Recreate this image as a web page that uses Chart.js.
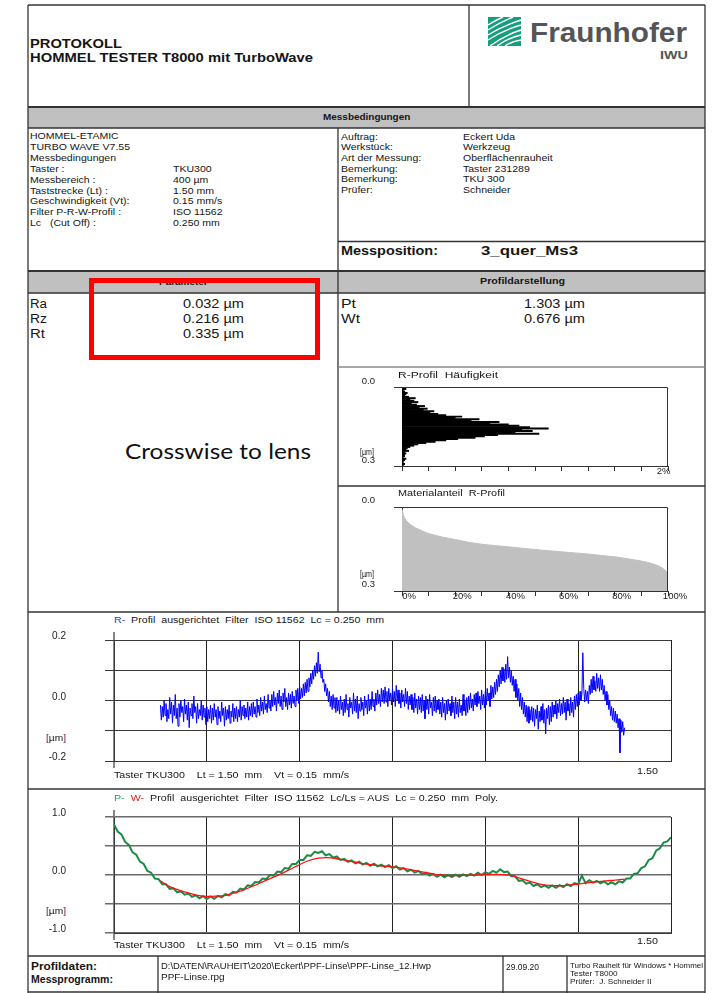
<!DOCTYPE html>
<html>
<head>
<meta charset="utf-8">
<script src="https://cdn.jsdelivr.net/npm/chart.js"></script>
<style>
html, body { margin: 0; padding: 0; background: #fff; }
#page { position: relative; width: 718px; height: 993px; overflow: hidden; font-family: "Liberation Sans", Arial, sans-serif; color: #151515; }
#frame { position: absolute; left: 0; top: 0; }
.t { position: absolute; white-space: nowrap; line-height: 1; transform-origin: 0 50%; }
canvas { position: absolute; }
#redBox { position: absolute; left: 89px; top: 278px; width: 221px; height: 72px; border: 5px solid #ff0000; }
</style>
</head>
<body>
<div id="page">
<svg id="frame" width="718" height="993">
  <rect x="28" y="107" width="677" height="21" fill="#c0c0c0"/>
  <rect x="28" y="271" width="677" height="22" fill="#c0c0c0"/>
  <g stroke="#333" stroke-width="1.3" fill="none">
    <line x1="28" y1="5" x2="705" y2="5"/>
    <line x1="28" y1="5" x2="28" y2="993"/>
    <line x1="705" y1="5" x2="705" y2="993"/>
    <line x1="469" y1="5" x2="469" y2="107"/>
    <line x1="28" y1="107" x2="705" y2="107" stroke-width="2"/>
    <line x1="28" y1="128" x2="705" y2="128"/>
    <line x1="338" y1="128" x2="338" y2="612"/>
    <line x1="338" y1="241.5" x2="705" y2="241.5" stroke-width="1.6"/>
    <line x1="28" y1="271" x2="705" y2="271" stroke-width="2"/>
    <line x1="28" y1="293" x2="705" y2="293"/>
    <line x1="338" y1="367" x2="705" y2="367" stroke="#8a8a8a"/>
    <line x1="338" y1="486" x2="705" y2="486" stroke-width="1.6"/>
    <line x1="28" y1="612" x2="705" y2="612" stroke-width="1.6"/>
    <line x1="28" y1="789" x2="705" y2="789" stroke-width="1.6"/>
    <line x1="28" y1="956" x2="705" y2="956" stroke-width="1.6"/>
    <line x1="158" y1="956" x2="158" y2="993"/>
    <line x1="503" y1="956" x2="503" y2="993"/>
    <line x1="567" y1="956" x2="567" y2="993"/>
    <line x1="28" y1="992" x2="705" y2="992"/>
    <line x1="114" y1="632" x2="114" y2="768" stroke="#444"/>
    <line x1="114" y1="810" x2="114" y2="940" stroke="#444"/>
  </g>
  <g transform="translate(488,17)">
    <rect width="33" height="29" fill="#179c7d"/>
    <g stroke="#fff" stroke-width="1.4" fill="none">
      <path d="M0,8 Q8,3 15,0"/>
      <path d="M0,13 Q11,6 25,0"/>
      <path d="M0,18 Q14,9 33,3"/>
      <path d="M0,23 Q15,13 33,8"/>
      <path d="M2,29 Q17,18 33,13"/>
      <path d="M9,29 Q20,21 33,18"/>
      <path d="M17,29 Q24,24 33,23"/>
    </g>
  </g>
</svg>
<canvas id="histChart" width="362" height="116" style="left:340px;top:370px"></canvas>
<canvas id="ratioChart" width="362" height="122" style="left:340px;top:490px"></canvas>
<canvas id="rChart" width="672" height="160" style="left:30px;top:626px"></canvas>
<canvas id="pwChart" width="672" height="150" style="left:30px;top:803px"></canvas>
<div id="redBox"></div>
</div>

<script>
// R-Profil, sampled every 0.0025 mm from 0.125 mm (µm)
const rStart = 0.125;
const rStep = 0.0025;
const rProfile = [
    -0.015, -0.065, -0.020, -0.055, 0.000, -0.050, -0.010, -0.070, -0.030, -0.060,
    0.010, -0.045, -0.005, -0.075, -0.015, -0.050, 0.020, -0.060, -0.025, -0.085,
    -0.010, -0.055, 0.000, -0.040, -0.020, -0.070, 0.005, -0.045, -0.015, -0.065,
    -0.005, -0.090, -0.025, -0.050, -0.010, -0.060, 0.015, -0.040, -0.020, -0.075,
    -0.010, -0.060, -0.030, -0.050, 0.000, -0.065, -0.015, -0.055, -0.025, -0.080,
    -0.020, -0.070, -0.030, -0.060, -0.015, -0.075, -0.025, -0.065, -0.010, -0.055,
    -0.030, -0.080, -0.020, -0.060, -0.035, -0.070, -0.005, -0.050, -0.025, -0.085,
    -0.020, -0.065, -0.030, -0.060, -0.015, -0.075, -0.035, -0.055, -0.010, -0.070,
    -0.025, -0.060, -0.020, -0.070, -0.030, -0.055, 0.000, -0.065, -0.020, -0.050,
    -0.015, -0.060, -0.025, -0.055, -0.005, -0.065, -0.020, -0.050, -0.010, -0.055,
    -0.005, -0.045, -0.020, -0.055, 0.005, -0.040, -0.015, -0.050, 0.010, -0.035,
    -0.005, -0.045, 0.015, -0.030, -0.010, -0.040, 0.020, -0.025, 0.000, -0.035,
    0.020, -0.020, 0.030, -0.015, 0.010, -0.035, 0.025, -0.010, 0.035, -0.020,
    0.015, -0.030, 0.025, -0.005, 0.040, -0.020, 0.010, -0.030, 0.025, -0.015,
    0.020, -0.025, 0.030, -0.010, 0.015, -0.020, 0.035, 0.000, 0.040, -0.010,
    0.045, 0.005, 0.040, 0.010, 0.055, 0.015, 0.060, 0.025, 0.070, 0.030,
    0.075, 0.045, 0.090, 0.055, 0.100, 0.070, 0.115, 0.080, 0.125, 0.090,
    0.160, 0.095, 0.120, 0.075, 0.100, 0.060, 0.070, 0.030, 0.055, 0.015,
    0.040, -0.005, 0.030, -0.020, 0.015, -0.030, 0.020, -0.025, 0.010, -0.040,
    0.010, -0.035, 0.000, -0.045, 0.015, -0.030, -0.005, -0.050, 0.005, -0.040,
    0.020, -0.030, -0.010, -0.055, 0.010, -0.025, -0.005, -0.045, 0.025, -0.035,
    0.005, -0.040, 0.015, -0.060, -0.010, -0.035, 0.010, -0.030, -0.005, -0.050,
    0.015, -0.025, 0.000, -0.045, 0.020, -0.035, 0.005, -0.030, 0.030, -0.020,
    0.005, -0.035, 0.025, -0.015, 0.035, -0.010, 0.020, -0.020, 0.040, -0.005,
    0.035, -0.010, 0.045, -0.005, 0.030, -0.020, 0.040, 0.000, 0.025, -0.015,
    0.040, -0.005, 0.030, -0.020, 0.050, 0.000, 0.035, -0.010, 0.025, -0.025,
    0.035, -0.005, 0.020, -0.020, 0.040, -0.010, 0.030, -0.030, 0.015, -0.015,
    0.020, -0.030, 0.010, -0.040, 0.025, -0.025, 0.005, -0.045, 0.015, -0.030,
    0.010, -0.040, 0.020, -0.035, 0.000, -0.060, 0.015, -0.030, 0.005, -0.045,
    0.020, -0.025, -0.005, -0.050, 0.010, -0.035, 0.015, -0.040, 0.000, -0.030,
    0.005, -0.045, -0.005, -0.055, 0.010, -0.040, -0.010, -0.065, 0.000, -0.045,
    0.005, -0.035, -0.010, -0.050, 0.015, -0.040, -0.005, -0.060, 0.010, -0.045,
    -0.005, -0.055, 0.005, -0.040, -0.015, -0.050, 0.020, -0.035, 0.000, -0.050,
    0.010, -0.040, 0.015, -0.030, 0.025, -0.025, 0.005, -0.035, 0.020, -0.015,
    0.025, -0.020, 0.030, -0.010, 0.015, -0.030, 0.035, -0.015, 0.020, -0.025,
    0.030, -0.015, 0.040, 0.000, 0.025, -0.020, 0.050, 0.005, 0.045, 0.010,
    0.060, 0.020, 0.070, 0.030, 0.085, 0.045, 0.100, 0.055, 0.110, 0.065,
    0.105, 0.060, 0.120, 0.070, 0.145, 0.075, 0.110, 0.060, 0.100, 0.050,
    0.080, 0.030, 0.070, 0.010, 0.055, 0.000, 0.040, -0.020, 0.025, -0.030,
    0.010, -0.045, -0.005, -0.055, -0.015, -0.070, -0.020, -0.075, -0.030, -0.065,
    -0.020, -0.070, -0.025, -0.085, -0.030, -0.060, -0.015, -0.095, -0.035, -0.070,
    -0.020, -0.065, -0.010, -0.075, -0.030, -0.110, -0.025, -0.060, -0.015, -0.080,
    -0.020, -0.070, -0.005, -0.055, -0.015, -0.045, 0.000, -0.060, -0.010, -0.040,
    0.005, -0.050, -0.010, -0.045, 0.010, -0.040, -0.005, -0.065, 0.005, -0.035,
    -0.010, -0.050, 0.010, -0.040, -0.005, -0.055, 0.015, -0.030, 0.020, -0.020,
    0.025, -0.015, 0.030, 0.000, 0.020, 0.158, 0.040, -0.005, 0.035, 0.000,
    0.030, -0.010, 0.050, 0.020, 0.070, 0.025, 0.080, 0.035, 0.065, 0.030,
    0.090, 0.040, 0.075, 0.030, 0.085, 0.035, 0.070, 0.020, 0.050, 0.000,
    0.030, -0.015, 0.020, -0.030, 0.000, -0.050, -0.020, -0.065, -0.025, -0.070,
    -0.035, -0.075, -0.045, -0.090, -0.060, -0.173, -0.065, -0.105, -0.070, -0.115,
    -0.090
];

// P-Profil, every 0.01 mm from 0 mm (µm)
const pStart = 0;
const pStep = 0.01;
const pProfile = [
    0.87, 0.75, 0.70, 0.57, 0.52, 0.39, 0.35, 0.23, 0.19, 0.07,
    0.04, -0.06, -0.07, -0.16, -0.16, -0.24, -0.23, -0.30, -0.28, -0.34,
    -0.32, -0.375, -0.35, -0.40, -0.365, -0.415, -0.37, -0.41, -0.36, -0.385,
    -0.33, -0.35, -0.29, -0.30, -0.235, -0.25, -0.18, -0.19, -0.12, -0.13,
    -0.06, -0.07, 0.00, -0.01, 0.06, 0.05, 0.12, 0.11, 0.19, 0.19,
    0.26, 0.26, 0.34, 0.33, 0.40, 0.38, 0.41, 0.34, 0.36, 0.30,
    0.32, 0.26, 0.28, 0.225, 0.25, 0.20, 0.23, 0.18, 0.21, 0.16,
    0.195, 0.15, 0.18, 0.135, 0.17, 0.12, 0.15, 0.095, 0.12, 0.065,
    0.09, 0.04, 0.07, 0.015, 0.04, -0.01, 0.02, -0.03, 0.005, -0.04,
    0.00, -0.035, 0.005, -0.03, 0.01, -0.02, 0.02, -0.01, 0.04, 0.00,
    0.05, 0.02, 0.07, 0.04, 0.10, 0.05, 0.06, -0.02, -0.02, -0.10,
    -0.09, -0.15, -0.13, -0.19, -0.16, -0.21, -0.18, -0.22, -0.18, -0.22,
    -0.175, -0.21, -0.16, -0.19, -0.14, -0.16, -0.01, -0.14, -0.09, -0.13,
    -0.10, -0.145, -0.11, -0.16, -0.125, -0.16, -0.11, -0.13, -0.06, -0.06,
    0.02, 0.03, 0.12, 0.15, 0.26, 0.29, 0.42, 0.46, 0.56, 0.58, 0.65
];

// W-Profil, every 0.025 mm from 0.125 mm (µm)
const wStart = 0.125;
const wStep = 0.025;
const wProfile = [
    -0.10, -0.20, -0.26, -0.31, -0.35, -0.37, -0.365, -0.35, -0.31, -0.255,
    -0.19, -0.12, -0.05, 0.02, 0.10, 0.18, 0.25, 0.29, 0.30, 0.28,
    0.25, 0.22, 0.19, 0.17, 0.155, 0.14, 0.12, 0.09, 0.06, 0.03,
    0.00, -0.01, -0.01, -0.005, 0.00, 0.005, 0.01, 0.005, -0.02, -0.07,
    -0.12, -0.16, -0.18, -0.185, -0.175, -0.155, -0.135, -0.12, -0.10, -0.09, -0.07
];

// Häufigkeit: depth bins (µm) and share (%)
const histDepth = [
    '0.000', '0.005', '0.010', '0.015', '0.020', '0.025', '0.030', '0.035', '0.040', '0.045',
    '0.050', '0.055', '0.060', '0.065', '0.070', '0.075', '0.080', '0.085', '0.090', '0.095',
    '0.100', '0.105', '0.110', '0.115', '0.120', '0.125', '0.130', '0.135', '0.140', '0.145',
    '0.150', '0.155', '0.160', '0.165', '0.170', '0.175', '0.180', '0.185', '0.190', '0.195',
    '0.200', '0.205', '0.210', '0.215', '0.220', '0.225', '0.230', '0.235', '0.240', '0.245',
    '0.250', '0.255', '0.260', '0.265', '0.270', '0.275', '0.280', '0.285', '0.290', '0.295'
];
const histShare = [
    0.02, 0.03, 0.01, 0.02, 0.04, 0.03, 0.02, 0.05, 0.10, 0.06,
    0.09, 0.12, 0.07, 0.11, 0.17, 0.13, 0.19, 0.16, 0.24, 0.21,
    0.27, 0.33, 0.45, 0.40, 0.58, 0.52, 0.73, 0.66, 0.80, 0.88,
    0.96, 1.10, 0.90, 0.98, 0.85, 1.03, 0.72, 0.62, 0.55, 0.42,
    0.33, 0.25, 0.18, 0.12, 0.09, 0.06, 0.04, 0.03, 0.05, 0.02,
    0.03, 0.02, 0.02, 0.01, 0.03, 0.02, 0.01, 0.01, 0.02, 0.01
];

// Materialanteil (Abbott curve)
const ratioPct = [0, 0.5, 1, 2, 3, 5, 7.5, 10, 15, 20, 25, 30, 35, 40, 45, 50, 55, 60, 65, 70, 75, 80, 85, 90, 93, 95, 97, 98, 99, 99.5, 100];
const ratioDepth = [0.008, 0.030, 0.041, 0.053, 0.062, 0.074, 0.085, 0.095, 0.107, 0.116, 0.126, 0.133, 0.138, 0.142, 0.147, 0.152, 0.156, 0.160, 0.164, 0.168, 0.173, 0.178, 0.185, 0.193, 0.199, 0.205, 0.213, 0.219, 0.226, 0.230, 0.237];

Chart.defaults.font.family = '"Liberation Sans", Arial, sans-serif';
Chart.defaults.font.size = 9.5;
Chart.defaults.color = '#222';
Chart.defaults.animation = false;
Chart.defaults.events = [];
Chart.defaults.plugins.legend.display = false;
Chart.defaults.plugins.tooltip.enabled = false;

const gridColor = '#3a3a3a';

// fixed axis sizes, no extra label padding around the plot
function fixSize(w, h) {
    return s => {
        if (w !== null) s.width = w;
        if (h !== null) s.height = h;
        s.paddingTop = 0;
        s.paddingBottom = 0;
        s.paddingLeft = 0;
        s.paddingRight = 0;
    };
}

// top + right edge of the small diagrams
const framePlugin = {
    id: 'frame',
    afterDraw(chart) {
        const a = chart.chartArea;
        const c = chart.ctx;
        c.save();
        c.strokeStyle = '#333';
        c.lineWidth = 1;
        c.beginPath();
        c.moveTo(a.left, a.top + 0.5);
        c.lineTo(a.right - 0.5, a.top + 0.5);
        c.lineTo(a.right - 0.5, a.bottom);
        c.stroke();
        c.restore();
    }
};

function near(v, t) { return Math.abs(v - t) < 1e-6; }

// R-Profil Häufigkeit
new Chart(document.getElementById('histChart'), {
    type: 'bar',
    data: {
        labels: histDepth,
        datasets: [{
            data: histShare,
            backgroundColor: '#000',
            borderWidth: 0,
            barPercentage: 1,
            categoryPercentage: 1
        }]
    },
    options: {
        responsive: false,
        indexAxis: 'y',
        layout: { padding: { top: 17, right: 34, left: 0, bottom: 0 } },
        scales: {
            x: {
                type: 'linear', min: 0, max: 2,
                afterFit: fixSize(null, 20),
                ticks: { stepSize: 0.2, autoSkip: false, maxRotation: 0, padding: -5, labelOffset: -4.5,
                    callback: v => near(v, 2) ? '2%' : '' },
                grid: { drawOnChartArea: false, tickLength: 5, color: '#333' },
                border: { color: '#333' }
            },
            y: { type: 'category', display: false },
            yd: {
                type: 'linear', position: 'left', min: 0, max: 0.3, reverse: true, offset: false,
                afterFit: fixSize(62, null),
                ticks: { stepSize: 0.3, padding: 19, labelOffset: -6, callback: v => v.toFixed(1) },
                grid: { offset: false, drawOnChartArea: false, tickLength: 8, color: '#333' },
                border: { color: '#333' }
            }
        }
    },
    plugins: [framePlugin]
});

// Materialanteil R-Profil
new Chart(document.getElementById('ratioChart'), {
    type: 'line',
    data: {
        datasets: [{
            data: ratioPct.map((p, i) => ({ x: p, y: ratioDepth[i] })),
            borderColor: '#c0c0c0',
            backgroundColor: '#c0c0c0',
            borderWidth: 1,
            pointRadius: 0,
            fill: { value: 0.3 }
        }]
    },
    options: {
        responsive: false,
        layout: { padding: { top: 17, right: 34, left: 0, bottom: 0 } },
        scales: {
            x: {
                type: 'linear', min: 0, max: 100,
                afterFit: fixSize(null, 21),
                ticks: { stepSize: 10, autoSkip: false, maxRotation: 0, padding: -5, labelOffset: 7,
                    callback: v => (Math.round(v) % 20 === 0 ? Math.round(v) + '%' : '') },
                grid: { drawOnChartArea: false, tickLength: 5, color: '#333' },
                border: { color: '#333' }
            },
            y: {
                type: 'linear', min: 0, max: 0.3, reverse: true,
                afterFit: fixSize(62, null),
                ticks: { stepSize: 0.3, padding: 19, labelOffset: -7, callback: v => v.toFixed(1) },
                grid: { drawOnChartArea: false, tickLength: 8, color: '#333' },
                border: { color: '#333' }
            }
        }
    },
    plugins: [framePlugin]
});

// R-Profil
new Chart(document.getElementById('rChart'), {
    type: 'line',
    data: {
        datasets: [{
            data: rProfile.map((v, i) => ({ x: rStart + i * rStep, y: v })),
            borderColor: '#0000ff',
            borderWidth: 1,
            pointRadius: 0,
            tension: 0
        }]
    },
    options: {
        responsive: false,
        layout: { padding: { top: 14, right: 31, left: 0, bottom: 0 } },
        scales: {
            x: {
                type: 'linear', min: 0, max: 1.5,
                afterFit: fixSize(null, 25),
                ticks: { display: false, stepSize: 0.25 },
                grid: { color: '#222', drawTicks: false },
                border: { color: gridColor }
            },
            y: {
                min: -0.2, max: 0.2,
                afterFit: fixSize(84, null),
                ticks: { stepSize: 0.1, padding: 39, labelOffset: -3.5, font: { size: 10 },
                    callback: v => near(v, 0.2) ? '0.2' : near(v, 0) ? '0.0' : near(v, -0.2) ? '-0.2' : '' },
                grid: { color: gridColor, tickLength: 9 },
                border: { color: gridColor }
            }
        }
    }
});

// P- / W-Profil
new Chart(document.getElementById('pwChart'), {
    type: 'line',
    data: {
        datasets: [
            {
                data: wProfile.map((v, i) => ({ x: wStart + i * wStep, y: v })),
                borderColor: '#ff1010',
                borderWidth: 1.3,
                pointRadius: 0,
                tension: 0.3
            },
            {
                data: pProfile.map((v, i) => ({ x: pStart + i * pStep, y: v })),
                borderColor: '#1b8a45',
                borderWidth: 2,
                pointRadius: 0,
                tension: 0
            }
        ]
    },
    options: {
        responsive: false,
        layout: { padding: { top: 14, right: 31, left: 0, bottom: 0 } },
        scales: {
            x: {
                type: 'linear', min: 0, max: 1.5,
                afterFit: fixSize(null, 20),
                ticks: { display: false, stepSize: 0.25 },
                grid: { color: '#222', drawTicks: false },
                border: { color: gridColor }
            },
            y: {
                min: -1, max: 1,
                afterFit: fixSize(84, null),
                ticks: { stepSize: 0.5, padding: 39, labelOffset: -3.5, font: { size: 10 },
                    callback: v => near(v, 1) ? '1.0' : near(v, 0) ? '0.0' : near(v, -1) ? '-1.0' : '' },
                grid: { color: '#6a6a6a', lineWidth: 1.5, tickLength: 9 },
                border: { color: gridColor }
            }
        }
    }
});

// document text
const page = document.getElementById('page');
function addText(html, x, cy, size, opts = {}) {
    const el = document.createElement('div');
    el.className = 't';
    el.innerHTML = html;
    el.style.fontSize = size + 'px';
    el.style.top = (cy - size / 2) + 'px';
    if (opts.bold) el.style.fontWeight = 'bold';
    if (opts.color) el.style.color = opts.color;
    if (opts.font) el.style.fontFamily = opts.font;
    page.appendChild(el);
    const natural = el.getBoundingClientRect().width;
    const sx = opts.width ? opts.width / natural : 1.17;
    const w = natural * sx;
    let left = x;
    if (opts.align === 'center') left = x - w / 2;
    el.style.left = left + 'px';
    el.style.transform = 'scaleX(' + sx + ')';
}

addText('PROTOKOLL', 30, 44, 12.5, { bold: true, width: 92 });
addText('HOMMEL TESTER T8000 mit TurboWave', 30, 58.5, 12.5, { bold: true, width: 283 });
addText('Fraunhofer', 530, 33, 27, { bold: true, width: 157, color: '#555' });
addText('IWU', 660, 55, 11, { bold: true, width: 28, color: '#555' });

addText('Messbedingungen', 367, 117.5, 8.5, { bold: true, align: 'center' });

const leftLabels = ['HOMMEL-ETAMIC', 'TURBO WAVE V7.55', 'Messbedingungen', 'Taster :', 'Messbereich :',
    'Taststrecke (Lt) :', 'Geschwindigkeit (Vt):', 'Filter P-R-W-Profil :', 'Lc &nbsp;&nbsp;(Cut Off) :'];
const leftValues = ['', '', '', 'TKU300', '400 µm', '1.50 mm', '0.15 mm/s', 'ISO 11562', '0.250 mm'];
leftLabels.forEach((s, k) => {
    addText(s, 30, 136.8 + k * 10.85, 9);
    if (leftValues[k]) addText(leftValues[k], 173, 136.8 + k * 10.85, 9);
});

const rightLabels = ['Auftrag:', 'Werkstück:', 'Art der Messung:', 'Bemerkung:', 'Bemerkung:', 'Prüfer:'];
const rightValues = ['Eckert Uda', 'Werkzeug', 'Oberflächenrauheit', 'Taster 231289', 'TKU 300', 'Schneider'];
rightLabels.forEach((s, k) => {
    addText(s, 341, 137.3 + k * 10.65, 9);
    addText(rightValues[k], 463, 137.3 + k * 10.65, 9);
});

addText('Messposition:', 341, 251.5, 12.5, { bold: true, width: 97 });
addText('3_quer_Ms3', 481, 251.5, 12.5, { bold: true, width: 97 });

addText('Parameter', 183, 282, 8.5, { bold: true, align: 'center' });
addText('Profildarstellung', 522, 281.5, 8.5, { bold: true, align: 'center', width: 85 });

addText('Ra', 30, 303.5, 12, { width: 17 });
addText('Rz', 30, 318.5, 12, { width: 17 });
addText('Rt', 30, 334, 12, { width: 15 });
addText('0.032 µm', 213, 303.5, 12, { align: 'center', width: 61 });
addText('0.216 µm', 213, 318.5, 12, { align: 'center', width: 61 });
addText('0.335 µm', 213, 334, 12, { align: 'center', width: 61 });
addText('Pt', 341, 303.5, 12, { width: 15 });
addText('Wt', 341, 319, 12, { width: 19 });
addText('1.303 µm', 554, 303.5, 12, { align: 'center', width: 61 });
addText('0.676 µm', 554, 319, 12, { align: 'center', width: 61 });

addText('Crosswise to lens', 125, 451, 22, { font: 'Lato, "Open Sans", sans-serif', width: 186, color: '#111' });

addText('R-Profil&nbsp; Häufigkeit', 398, 375, 8.5, { width: 100 });
addText('[µm]', 360, 452, 8.5, { width: 14 });
addText('Materialanteil&nbsp; R-Profil', 398, 493.3, 8.5, { width: 107 });
addText('[µm]', 360, 574, 8.5, { width: 14 });

addText('<span style="color:#3434d0">R-</span>&nbsp; Profil&nbsp; ausgerichtet&nbsp; Filter&nbsp; ISO 11562&nbsp; Lc = 0.250&nbsp; mm',
    114, 620, 9, { width: 270 });
addText('<span style="color:#6a1040">[</span>µm<span style="color:#6a1040">]</span>', 46, 737.5, 9.5, { width: 20 });
addText('Taster TKU300&nbsp;&nbsp;&nbsp; Lt = 1.50&nbsp; mm&nbsp;&nbsp;&nbsp; Vt = 0.15&nbsp; mm/s', 114, 775.5, 9, { width: 235 });
addText('1.50', 637, 771, 9, { width: 21 });

addText('<span style="color:#22a060">P-</span>&nbsp; <span style="color:#e02020">W-</span>&nbsp; Profil&nbsp; ausgerichtet&nbsp; Filter&nbsp; ISO 11562&nbsp; Lc/Ls = AUS&nbsp; Lc = 0.250&nbsp; mm&nbsp; Poly.',
    114, 798.5, 9, { width: 384 });
addText('<span style="color:#6a1040">[</span>µm<span style="color:#6a1040">]</span>', 46, 911, 9.5, { width: 20 });
addText('Taster TKU300&nbsp;&nbsp;&nbsp; Lt = 1.50&nbsp; mm&nbsp;&nbsp;&nbsp; Vt = 0.15&nbsp; mm/s', 114, 945.5, 9, { width: 235 });
addText('1.50', 637, 941.5, 9, { width: 21 });

addText('Profildaten:', 31, 967, 10, { bold: true, width: 66 });
addText('Messprogramm:', 31, 980, 10, { bold: true, width: 82 });
addText('D:\\DATEN\\RAUHEIT\\2020\\Eckert\\PPF-Linse\\PPF-Linse_12.Hwp', 161, 966, 8.5, { width: 270 });
addText('PPF-Linse.rpg', 161, 977, 8.5);
addText('29.09.20', 506, 967, 8.5, { width: 33 });
addText('Turbo Rauheit für Windows * Hommel', 570, 965.5, 7, { width: 133 });
addText('Tester T8000', 570, 973.5, 7);
addText('Prüfer:&nbsp; J. Schneider II', 570, 981.5, 7);

page.appendChild(document.getElementById('redBox'));
</script>
</body>
</html>
